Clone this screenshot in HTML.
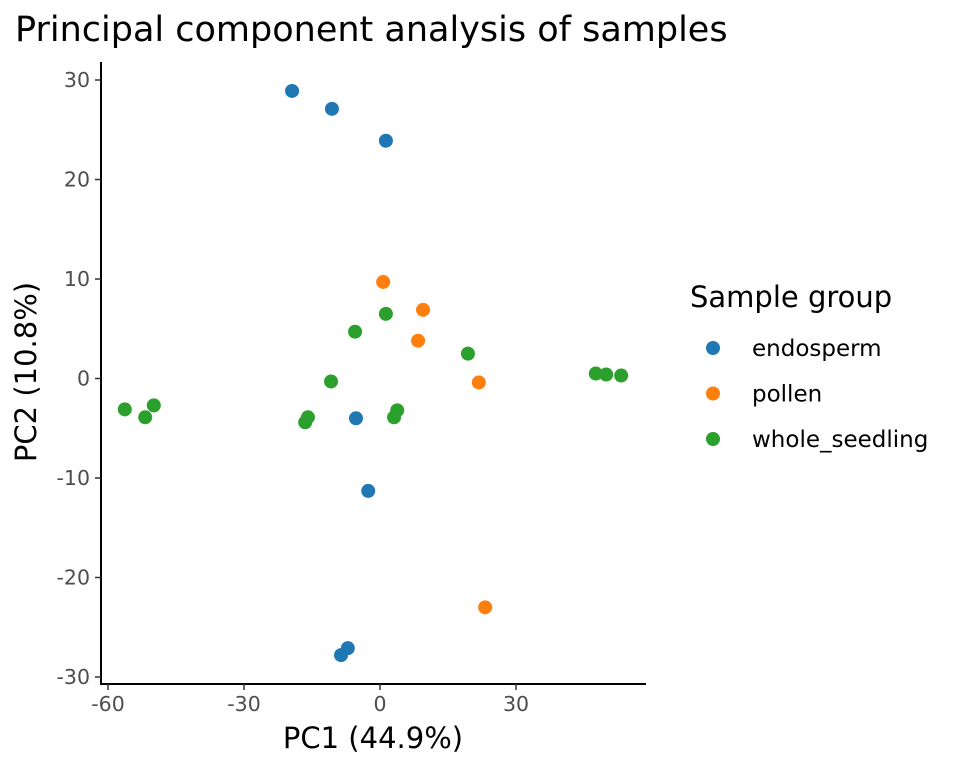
<!DOCTYPE html>
<html><head><meta charset="utf-8"><style>
body{margin:0;background:#fff}
svg{display:block;font-family:"Liberation Sans","DejaVu Sans",sans-serif}
</style></head><body>
<svg id="chart" width="960" height="768">
<text x="15" y="41" font-size="35" fill="#000" font-family="DejaVu Sans, sans-serif">Principal component analysis of samples</text>
<g id="axes"></g>
<g id="points"></g>
<g id="legend"></g>
</svg>
<script>
const groups = ["endosperm","pollen","whole_seedling"];
const colors = ["#1f77b4","#ff7f0e","#2ca02c"];
const endospermX = [-19.4,-10.6,1.3,-5.3,-2.6,-7.1,-8.6];
const endospermY = [28.9,27.1,23.9,-4.0,-11.3,-27.1,-27.8];
const pollenX = [0.7,9.5,8.4,21.8,23.2];
const pollenY = [9.7,6.9,3.8,-0.4,-23.0];
const seedlingX = [1.3,-5.5,-10.8,19.4,47.6,49.9,53.2,-56.3,-51.8,-49.9,-16.5,-15.9,3.1,3.8];
const seedlingY = [6.5,4.7,-0.3,2.5,0.5,0.4,0.3,-3.1,-3.9,-2.7,-4.4,-3.9,-3.9,-3.2];
const xTicks = [-60,-30,0,30];
const yTicks = [30,20,10,0,-10,-20,-30];

const NS="http://www.w3.org/2000/svg";
const sx = v => 380 + v*4.533;
const sy = v => 378.5 - v*9.95;
function mk(tag, attrs, parent, text){
  const e=document.createElementNS(NS,tag);
  for(const k in attrs) e.setAttribute(k,attrs[k]);
  if(text!==undefined) e.textContent=text;
  parent.appendChild(e); return e;
}
const axes=document.getElementById('axes');
const fam="DejaVu Sans, sans-serif";
let l=mk('line',{x1:101,y1:62,x2:101,y2:684.5,stroke:'#000','stroke-width':2},axes);


l=mk('line',{x1:100,y1:684,x2:646,y2:684,stroke:'#000','stroke-width':2},axes);


xTicks.forEach(t=>{
  const x=sx(t);
  mk('line',{x1:x,y1:684,x2:x,y2:690,stroke:'#333','stroke-width':1.5},axes);
  const tx=mk('text',{x:x,y:711,'font-size':20.5,fill:'#4d4d4d','text-anchor':'middle','font-family':fam},axes,String(t));
  
  
});
yTicks.forEach(t=>{
  const y=sy(t);
  mk('line',{x1:95,y1:y,x2:101,y2:y,stroke:'#333','stroke-width':1.5},axes);
  const tx=mk('text',{x:90,y:y+7,'font-size':20.5,fill:'#4d4d4d','text-anchor':'end','font-family':fam},axes,String(t));
  
  
});
let at=mk('text',{x:373,y:748,'font-size':29,fill:'#000','text-anchor':'middle','font-family':fam},axes,'PC1 (44.9%)');


at=mk('text',{x:0,y:0,'font-size':29,fill:'#000','text-anchor':'middle','font-family':fam,transform:'translate(36,372) rotate(-90)'},axes,'PC2 (10.8%)');



const pts=document.getElementById('points');
[[endospermX,endospermY],[pollenX,pollenY],[seedlingX,seedlingY]].forEach((s,gi)=>{
  s[0].forEach((xv,i)=>{
    const c=mk('circle',{cx:sx(xv),cy:sy(s[1][i]),r:7,fill:colors[gi]},pts);
    
    
  });
});
const lg=document.getElementById('legend');
let lt=mk('text',{x:690,y:307,'font-size':29,fill:'#000','font-family':fam},lg,'Sample group');


groups.forEach((g,i)=>{
  const y=348+i*45.5;
  const c=mk('circle',{cx:713,cy:y,r:7,fill:colors[i]},lg);
  
  
  const t=mk('text',{x:752,y:y+8,'font-size':23,fill:'#000','font-family':fam},lg,g);
  
  
});
</script>
</body></html>
